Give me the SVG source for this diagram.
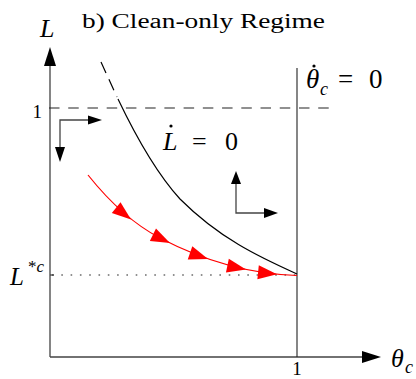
<svg xmlns="http://www.w3.org/2000/svg" width="416" height="379" viewBox="0 0 416 379">
<style>
.ax{stroke:#444;stroke-width:1.3;fill:none}
.blk{stroke:#000;stroke-width:1.2;fill:none}
.red{stroke:#f00;stroke-width:1.2;fill:none}
text{font-family:"Liberation Serif","Times New Roman",serif;fill:#000}
.i{font-style:italic}
</style>
<defs>
<polygon id="ra" points="0,0 -19,-7 -19,7" fill="#f00"/>
</defs>
<g id="title"><text x="82" y="28" font-size="20" textLength="243" lengthAdjust="spacingAndGlyphs">b) Clean-only Regime</text></g>
<g id="axes">
<path class="ax" d="M50,357 L50,66 M50,357 L362,357"/>
<polygon points="50,47 44,66 56,66" fill="#000"/>
<polygon points="381,357 362,351 362,363" fill="#000"/>
<path class="ax" d="M50,275 L54,275"/>
<text class="i" x="40" y="37" font-size="26">L</text>
<text x="391" y="367" font-size="26"><tspan class="i">θ</tspan><tspan class="i" font-size="18" x="405" y="373">c</tspan></text>
<text x="42" y="118" font-size="19" text-anchor="end">1</text>
<text x="297" y="375" font-size="19" text-anchor="middle">1</text>
<text x="10" y="285" font-size="25"><tspan class="i">L</tspan><tspan font-size="17" x="28" y="272">*</tspan><tspan class="i" font-size="17" y="272">c</tspan></text>
</g>
<g id="guides">
<path d="M49,108 L330,108" stroke="#222" stroke-width="1.1" stroke-dasharray="10.5 8.73" fill="none"/>
<path d="M52,275 L297,275" stroke="#222" stroke-width="1.2" stroke-dasharray="1.6 7.7" fill="none"/>
</g>
<g id="theta-null">
<path d="M297,68 L297,357" stroke="#222" stroke-width="1.1" fill="none"/>
<text font-size="27"><tspan class="i" x="306" y="88">θ</tspan><tspan class="i" font-size="18" x="320" y="95">c</tspan><tspan x="338" y="88">=</tspan><tspan x="369" y="88">0</tspan></text>
<circle cx="314" cy="66" r="1.6" fill="#000"/>
</g>
<g id="L-null">
<path class="blk" d="M101,62 L117,97" stroke-dasharray="12 7"/>
<path class="blk" d="M118,99 C139,143 159,176 180,199 C219,238 258,256.5 297,274"/>
<text font-size="26"><tspan class="i" x="163" y="150">L</tspan><tspan x="192" y="150">=</tspan><tspan x="225" y="150">0</tspan></text>
<circle cx="171" cy="126" r="1.6" fill="#000"/>
</g>
<g id="connectors">
<path class="ax" d="M60,148 L60,120 L88,120"/>
<polygon points="60,162 55,147 65,147" fill="#000"/>
<polygon points="102,120 88,115.5 88,124.5" fill="#000"/>
<path class="ax" d="M236,184 L236,213 L264,213"/>
<polygon points="236,171 231,184 241,184" fill="#000"/>
<polygon points="278,213 264,208 264,218" fill="#000"/>
</g>
<g id="trajectory">
<path class="red" d="M88,175 C112,205 136,225.5 160,238 C206,262 251,274 297,275.5"/>
<use href="#ra" transform="translate(131,219.5) rotate(38.6)"/>
<use href="#ra" transform="translate(170,243) rotate(26)"/>
<use href="#ra" transform="translate(208,259) rotate(19)"/>
<use href="#ra" transform="translate(246,269.5) rotate(11.8)"/>
<use href="#ra" transform="translate(277,274.2) rotate(5.8)"/>
</g>
</svg>
